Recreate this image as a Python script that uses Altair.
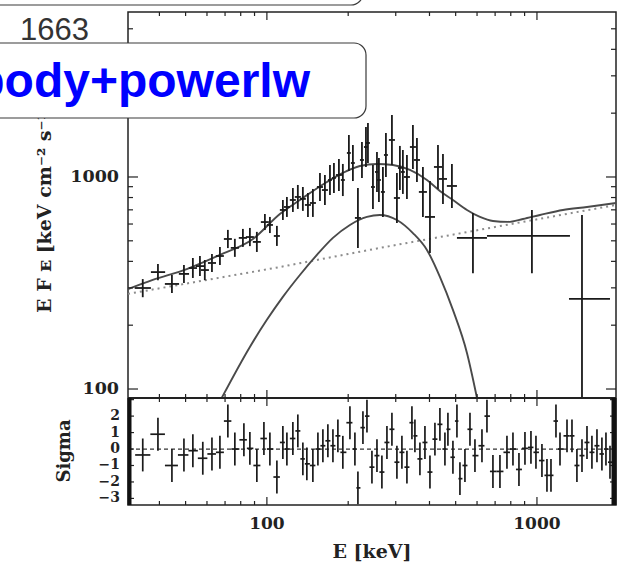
import altair as alt
import pandas as pd
import numpy as np

# ---------------- data ----------------
E_main = [34.7, 39.5, 44.5, 49.3, 53.2, 56.5, 58.9, 62.6, 67.0, 71.7, 76.1, 81.5, 86.5, 91.8, 98.3,
          102.6, 108.9, 114.6, 118.6, 124.8, 130.2, 135.9, 141.9, 148.0, 157.2, 164.0, 171.2, 177.1,
          184.8, 191.1, 201.2, 208.2, 217.3, 224.9, 232.7, 236.7, 247.0, 255.6, 259.9, 268.9, 275.9,
          290.4, 303.0, 310.8, 318.8, 330.0, 347.3, 359.4, 378.2, 401.6, 430.0, 448.7, 484.3, 579.4,
          958.0, 1468.0]
E_lo = [32.4, 37.2, 41.9, 47.2, 51.4, 54.6, 56.9, 60.5, 64.7, 69.3, 73.5, 78.7, 83.6, 88.7, 95.0,
        100.0, 106.1, 111.7, 115.6, 121.6, 126.9, 132.5, 138.3, 144.3, 153.2, 159.9, 168.3, 174.1,
        180.1, 187.9, 197.8, 204.7, 211.8, 221.1, 228.8, 232.8, 242.9, 251.3, 255.6, 264.4, 271.3,
        283.0, 295.3, 305.6, 313.5, 321.6, 338.5, 350.3, 365.4, 384.7, 415.5, 433.5, 463.9, 505.5,
        653.0, 1314.0]
E_hi = [37.2, 42.0, 47.3, 51.5, 55.1, 58.5, 61.0, 64.8, 69.3, 74.2, 78.8, 84.4, 89.5, 95.0, 101.7,
        105.3, 111.7, 117.6, 121.7, 128.0, 133.6, 139.4, 145.6, 151.9, 161.3, 168.3, 174.1, 180.1,
        189.6, 194.4, 204.6, 211.7, 222.9, 228.7, 236.7, 240.7, 251.2, 259.9, 264.3, 273.5, 280.6,
        298.0, 310.9, 316.1, 324.2, 338.6, 356.3, 368.8, 391.4, 419.3, 445.1, 464.4, 505.6, 653.0,
        1325.0, 1864.0]
F_main = [299.5, 356, 313, 349, 372, 380, 364, 393, 424, 510, 463, 516, 521, 494, 613,
          594, 527, 699, 722, 779, 805, 788, 738, 754, 897, 868, 968, 989,
          1022, 968, 1298, 1164, 641, 1203, 1385, 1447, 897, 1056, 968, 850, 1270,
          1495, 796, 1103, 1056, 1000, 1385, 1203, 850, 648, 1115, 979, 907, 516,
          527, 266]
F_lo = [271, 326, 284, 316, 334, 341, 326, 356, 384, 462, 420, 468, 472, 443, 562,
        544, 473, 627, 648, 684, 707, 692, 648, 648, 771, 737, 822, 840,
        859, 813, 1067, 957, 463, 989, 1114, 1164, 706, 850, 762, 648, 1000,
        1140, 607, 868, 832, 787, 1091, 947, 648, 438, 878, 746, 714, 352,
        352, 91]
F_hi = [330, 389, 345, 385, 415, 424, 406, 433, 468, 563, 511, 569, 575, 551, 669,
        648, 588, 779, 805, 887, 917, 897, 841, 878, 1044, 1022, 1139, 1164,
        1216, 1152, 1578, 1415, 888, 1463, 1722, 1799, 1139, 1313, 1229, 1115, 1613,
        1961, 1044, 1401, 1341, 1270, 1759, 1528, 1115, 958, 1416, 1284, 1152, 676,
        699, 662]

total_E = [30.6, 37.8, 50.5, 67.0, 88.8, 111.7, 132.5, 166.8, 191.1, 221.0, 255.6, 292.9, 338.5,
           391.4, 437.2, 488.5, 550.6, 615.1, 687.1, 780.6, 887.5, 1026, 1248, 1532, 1962]
total_F = [296, 327, 368, 429, 510, 669, 779, 947, 1045, 1127, 1152, 1139, 1079,
           968, 859, 779, 699, 648, 620, 614, 634, 662, 699, 722, 754]

bb_E = [68.1, 86.5, 100, 114.6, 132.5, 153.2, 175.6, 203.0, 234.7, 262.1, 303.0, 347.3, 391.4,
        437.2, 488.5, 550.6, 599.5]
bb_F = [91, 158, 212, 272, 345, 429, 516, 594, 648, 662, 627, 544, 453,
        338, 236, 148, 91]

pl_E = [30.6, 111.7, 262.1, 437.2, 887.5, 1962]
pl_F = [281, 376, 463, 521, 614, 738]

res_E = [34.7, 39.5, 44.5, 49.3, 53.2, 57.9, 62.6, 67.0, 71.7, 76.1, 82.2, 86.5, 91.8, 97.5, 102.6,
         108.9, 114.6, 118.6, 124.8, 130.2, 135.9, 140.6, 148.0, 154.5, 161.2, 168.2, 175.6, 183.2,
         191.1, 203.0, 211.8, 217.3, 226.8, 234.7, 244.9, 255.6, 266.6, 278.3, 290.4, 303.0, 316.2,
         330.0, 344.4, 353.3, 368.7, 384.8, 401.6, 419.0, 437.2, 456.3, 468.1, 488.5, 505.5, 518.6,
         541.2, 564.9, 589.4, 625.7, 652.9, 687.1, 729.4, 774.3, 815.0, 857.7, 902.8, 950.1, 991.5,
         1043.5, 1089, 1127, 1176, 1217, 1292, 1348, 1406, 1468, 1532, 1598, 1668, 1740, 1801, 1864]
res_V = [-0.36, 0.9, -1.0, -0.36, -0.1, -0.56, -0.3, -0.2, 1.7, 0.0, 0.56, 0.04, -1.0, 0.64, 0.0,
         -1.7, 0.4, 0.0, 0.64, 1.1, -0.6, -0.9, -1.0, 0.0, 0.2, 0.5, 0.2, 0.8, -0.2, 1.6,
         0.0, -2.36, 1.3, 2.0, -1.1, -0.4, -1.4, 0.4, 1.2, -0.8, -0.2, -1.1, 1.6, 0.8, -0.6,
         0.4, -1.4, 0.6, 1.5, 0.0, 1.2, -0.5, 1.7, -1.8, -1.0, 1.2, -0.4, 0.2, 2.0, -1.36,
         -1.36, -0.2, 0.0, -1.24, 0.04, 0.1, -0.2, -0.7, -1.6, -1.6, 1.7, 0.0, 0.8, 0.8, -1.0,
         -0.4, 0.4, -0.2, 0.2, -0.3, 0.0, -0.8]

x_ticks_major = [100, 1000]
x_ticks_minor = [40, 50, 60, 70, 80, 90, 200, 300, 400, 500, 600, 700, 800, 900]
y_ticks_major = [100, 1000]
y_ticks_minor = [200, 300, 400, 500, 600, 700, 800, 900, 2000, 3000, 4000, 5000]
res_ticks = [-3, -2, -1, 0, 1, 2, 3]
res_labels = [-3, -2, -1, 0, 1, 2]

y_title = "E F ᴇ [keV cm⁻² s⁻¹]"
res_title = "Sigma"
x_title = "E [keV]"

# ---------------- geometry ----------------
W, H_MAIN, H_RES = 488, 386, 107
H = H_MAIN + H_RES
FONT = "DejaVu Serif"
INK = "#1a1a1a"
TXT = "#222222"

xscale = alt.Scale(type="log", domain=[30.6, 1962], nice=False)
ymain = alt.Scale(type="log", domain=[90.7, 6000], range=[H_MAIN, 0], nice=False)
yres = alt.Scale(domain=[-3.4, 3.1], range=[H, H_MAIN], nice=False, zero=False)

main_df = pd.DataFrame({"E": E_main, "Elo": E_lo, "Ehi": E_hi, "F": F_main, "Flo": F_lo, "Fhi": F_hi})
tot_df = pd.DataFrame({"E": total_E, "F": total_F})
bb_df = pd.DataFrame({"E": bb_E, "F": bb_F})
pl_df = pd.DataFrame({"E": pl_E, "F": pl_F})

r = np.array(res_E)
mids = np.sqrt(r[:-1] * r[1:])
res_lo = np.concatenate([[r[0] ** 2 / mids[0]], mids])
res_hi = np.concatenate([mids, [min(r[-1] ** 2 / mids[-1], 1962)]])
res_df = pd.DataFrame({"E": res_E, "Elo": res_lo, "Ehi": res_hi, "V": res_V})
res_df["Vlo"] = res_df["V"] - 1
res_df["Vhi"] = res_df["V"] + 1


def X(f):
    return alt.X(f, scale=xscale, axis=None)


def YM(f):
    return alt.Y(f, scale=ymain, axis=None)


def YR(f):
    return alt.Y(f, scale=yres, axis=None)


# ---------------- main panel ----------------
pl_line = alt.Chart(pl_df).mark_line(color="#8c8c8c", strokeDash=[2, 4], strokeWidth=2).encode(
    x=X("E:Q"), y=YM("F:Q"))
tot_line = alt.Chart(tot_df).mark_line(color="#4a4a4a", strokeWidth=1.9, interpolate="monotone").encode(
    x=X("E:Q"), y=YM("F:Q"))
bb_line = alt.Chart(bb_df).mark_line(color="#4a4a4a", strokeWidth=1.9, interpolate="monotone").encode(
    x=X("E:Q"), y=YM("F:Q"))
h_bars = alt.Chart(main_df).mark_rule(color=INK, strokeWidth=1.8).encode(
    x=X("Elo:Q"), x2="Ehi:Q", y=YM("F:Q"))
v_bars = alt.Chart(main_df).mark_rule(color=INK, strokeWidth=1.8).encode(
    x=X("E:Q"), y=YM("Flo:Q"), y2="Fhi:Q")


def ytick(vals, yfun, x0, x1):
    return alt.Chart(pd.DataFrame({"v": vals})).mark_rule(color="#222", strokeWidth=1.2).encode(
        y=yfun("v:Q"), x=alt.value(x0), x2=alt.value(x1))


def xtick(vals, y0, y1):
    return alt.Chart(pd.DataFrame({"v": vals})).mark_rule(color="#222", strokeWidth=1.2).encode(
        x=X("v:Q"), y=alt.value(y0), y2=alt.value(y1))


main_ticks = [
    ytick(y_ticks_major, YM, 0, 10), ytick(y_ticks_minor, YM, 0, 5),
    ytick(y_ticks_major, YM, W - 10, W), ytick(y_ticks_minor, YM, W - 5, W),
    xtick(x_ticks_major, 0, 8), xtick(x_ticks_minor, 0, 4),
    xtick(x_ticks_major, H_MAIN - 8, H_MAIN), xtick(x_ticks_minor, H_MAIN - 4, H_MAIN),
    xtick(x_ticks_major, H_MAIN, H_MAIN + 8), xtick(x_ticks_minor, H_MAIN, H_MAIN + 4),
    xtick(x_ticks_major, H - 8, H), xtick(x_ticks_minor, H - 4, H),
]

main_ylabels = alt.Chart(pd.DataFrame({"v": y_ticks_major})).mark_text(
    align="right", baseline="middle", font=FONT, fontSize=17.5, fontWeight="bold", color=TXT).encode(
    y=YM("v:Q"), x=alt.value(-9), text=alt.Text("v:Q", format="d"))
x_labels = alt.Chart(pd.DataFrame({"v": x_ticks_major})).mark_text(
    align="center", baseline="top", font=FONT, fontSize=17, fontWeight="bold", color=TXT).encode(
    x=X("v:Q"), y=alt.value(H + 11), text=alt.Text("v:Q", format="d"))

main = alt.layer(pl_line, tot_line, bb_line, h_bars, v_bars, *main_ticks, main_ylabels, x_labels)

# ---------------- residual panel ----------------
zero = alt.Chart(pd.DataFrame({"z": [0]})).mark_rule(color="#333", strokeDash=[4, 3], strokeWidth=1.3).encode(
    y=YR("z:Q"))
rh = alt.Chart(res_df).mark_rule(color=INK, strokeWidth=1.7).encode(
    x=X("Elo:Q"), x2="Ehi:Q", y=YR("V:Q"))
rv = alt.Chart(res_df).mark_rule(color=INK, strokeWidth=1.7).encode(
    x=X("E:Q"), y=YR("Vlo:Q"), y2="Vhi:Q")
res_tick_layers = [ytick(res_ticks, YR, 0, 6), ytick(res_ticks, YR, W - 6, W)]
res_ylabels = alt.Chart(pd.DataFrame({"v": res_labels})).mark_text(
    align="right", baseline="middle", font=FONT, fontSize=14, fontWeight="bold", color=TXT).encode(
    y=YR("v:Q"), x=alt.value(-8), text=alt.Text("v:Q", format="d"))

resid = alt.layer(zero, rh, rv, *res_tick_layers, res_ylabels)

# ---------------- frame details, titles and overlays ----------------
one = alt.Data(values=[{"a": 1}])


def label(txt, x, y, size, angle=0, baseline="middle"):
    return alt.Chart(one).mark_text(text=txt, align="center", baseline=baseline, angle=angle,
                                    font=FONT, fontSize=size, fontWeight="bold", color=TXT).encode(
        x=alt.value(x), y=alt.value(y))


sep = alt.Chart(one).mark_rule(color="#222", strokeWidth=2).encode(
    x=alt.value(0), x2=alt.value(W), y=alt.value(H_MAIN))
lbar = alt.Chart(one).mark_rule(color="#111", strokeWidth=4).encode(
    x=alt.value(1.5), y=alt.value(H_MAIN), y2=alt.value(H))
rbar = alt.Chart(one).mark_rule(color="#111", strokeWidth=5).encode(
    x=alt.value(W - 2), y=alt.value(H_MAIN), y2=alt.value(H))
t_y = label(y_title, -83, 196, 19, angle=270)
t_res = label(res_title, -63, 439, 18, angle=270)
t_x = label(x_title, 244, H + 53, 19, baseline="alphabetic")
top_box = alt.Chart(one).mark_rect(fill="white", stroke="#3a3a3a", strokeWidth=1.2, cornerRadius=12).encode(
    x=alt.value(-170), x2=alt.value(235), y=alt.value(-45), y2=alt.value(-7))
label_1663 = alt.Chart(one).mark_text(text="1663", align="left", baseline="alphabetic",
                                      font="Liberation Sans", fontSize=31, color="#333").encode(
    x=alt.value(-108), y=alt.value(28))
blue_box = alt.Chart(one).mark_rect(fill="white", stroke="#3a3a3a", strokeWidth=1.2, cornerRadius=12).encode(
    x=alt.value(-170), x2=alt.value(238), y=alt.value(31), y2=alt.value(106))
blue_text = alt.Chart(one).mark_text(text="bbody+powerlw", align="right", baseline="alphabetic",
                                     font="Liberation Sans", fontSize=48, fontWeight="bold",
                                     color="#0000ff").encode(x=alt.value(182), y=alt.value(85))

overlay = alt.layer(sep, lbar, rbar, t_y, t_res, t_x, top_box, label_1663, blue_box, blue_text)

chart = alt.layer(main, resid, overlay).resolve_scale(y="independent").properties(
    width=W, height=H,
    padding={"left": 128, "top": 12, "right": 10, "bottom": 67},
    autosize=alt.AutoSizeParams(type="none"),
    background="white",
).configure_view(stroke="#222", strokeWidth=1.5)

chart.save("out.html", embed_options={"renderer": "svg", "actions": False})
